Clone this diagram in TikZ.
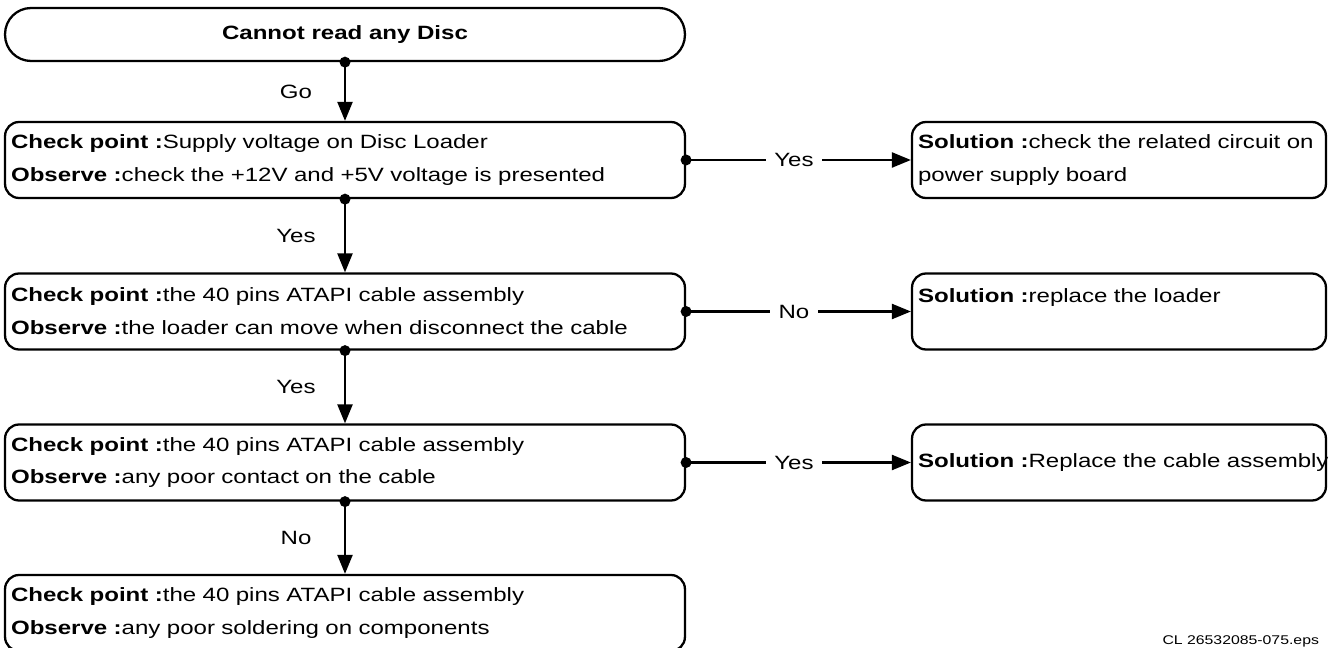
\documentclass[tikz,border=0pt]{standalone}
\usepackage{fontspec}
\usetikzlibrary{arrows.meta}
\newfontfamily\flowfont[FakeStretch=1.25]{Liberation Sans}

\begin{document}
\begin{tikzpicture}[x=0.02cm,y=-0.02cm,line width=1.3pt,>={Triangle[length=0.38cm,width=0.3cm]},
  font=\flowfont\fontsize{10.95}{18.7}\selectfont,
  topbox/.style={draw,rounded corners=0.52cm,minimum width=13.6cm,minimum height=1.06cm},
  chkbox/.style={draw,rounded corners=0.28cm,minimum width=13.6cm,minimum height=1.52cm,
    text width=13.36cm,align=left,inner xsep=0.12cm,inner ysep=0pt},
  solbox/.style={chkbox,minimum width=8.28cm,text width=8.04cm},
  flow/.style={->},
  lab/.style={xshift=-0.98cm},
  ans/.style={pos=0.48,fill=white,inner xsep=0.17cm}]
\useasboundingbox (0,0) rectangle (1333,648);
% start of the chart
\node[topbox] (start) at (345,34.5) {\bfseries Cannot read any Disc};
% check points
\node[chkbox] (chk1) at (345,160) {\textbf{Check point :}Supply voltage on Disc Loader\\
  \textbf{Observe :}check the +12V and +5V voltage is presented};
\node[chkbox] (chk2) at (345,311.5) {\textbf{Check point :}the 40 pins ATAPI cable assembly\\
  \textbf{Observe :}the loader can move when disconnect the cable};
\node[chkbox] (chk3) at (345,462.5) {\textbf{Check point :}the 40 pins ATAPI cable assembly\\
  \textbf{Observe :}any poor contact on the cable};
\node[chkbox] (chk4) at (345,613) {\textbf{Check point :}the 40 pins ATAPI cable assembly\\
  \textbf{Observe :}any poor soldering on components};
% solutions
\node[solbox] (sol1) at (1119,160) {\textbf{Solution :}check the related circuit on\\
  power supply board};
\node[solbox] (sol2) at (1119,311.5) {\textbf{Solution :}replace the loader\\ \mbox{}};
\node[solbox] (sol3) at (1119,462.5) {\mbox{\textbf{Solution :}Replace the cable assembly}};
% downward flow
\draw[flow] (start.south) -- node[lab] {Go} (chk1.north);
\draw[flow] (chk1.south) -- node[lab] {Yes} (chk2.north);
\draw[flow] (chk2.south) -- node[lab] {Yes} (chk3.north);
\draw[flow] (chk3.south) -- node[lab] {No} (chk4.north);
% branches to the solutions
\draw[flow] (chk1.east) -- node[ans] {Yes} (sol1.west);
\draw[flow] (chk2.east) -- node[ans] {No} (sol2.west);
\draw[flow] (chk3.east) -- node[ans] {Yes} (sol3.west);
% dots where the lines leave a box
\foreach \p in {start.south,chk1.south,chk2.south,chk3.south,chk1.east,chk2.east,chk3.east}
  \fill (\p) circle (0.11cm);
% file tag
\node[anchor=base east,font=\flowfont\fontsize{7.2}{9}\selectfont] (tag) at (1326,644) {CL 26532085-075.eps};
\end{tikzpicture}
\end{document}
